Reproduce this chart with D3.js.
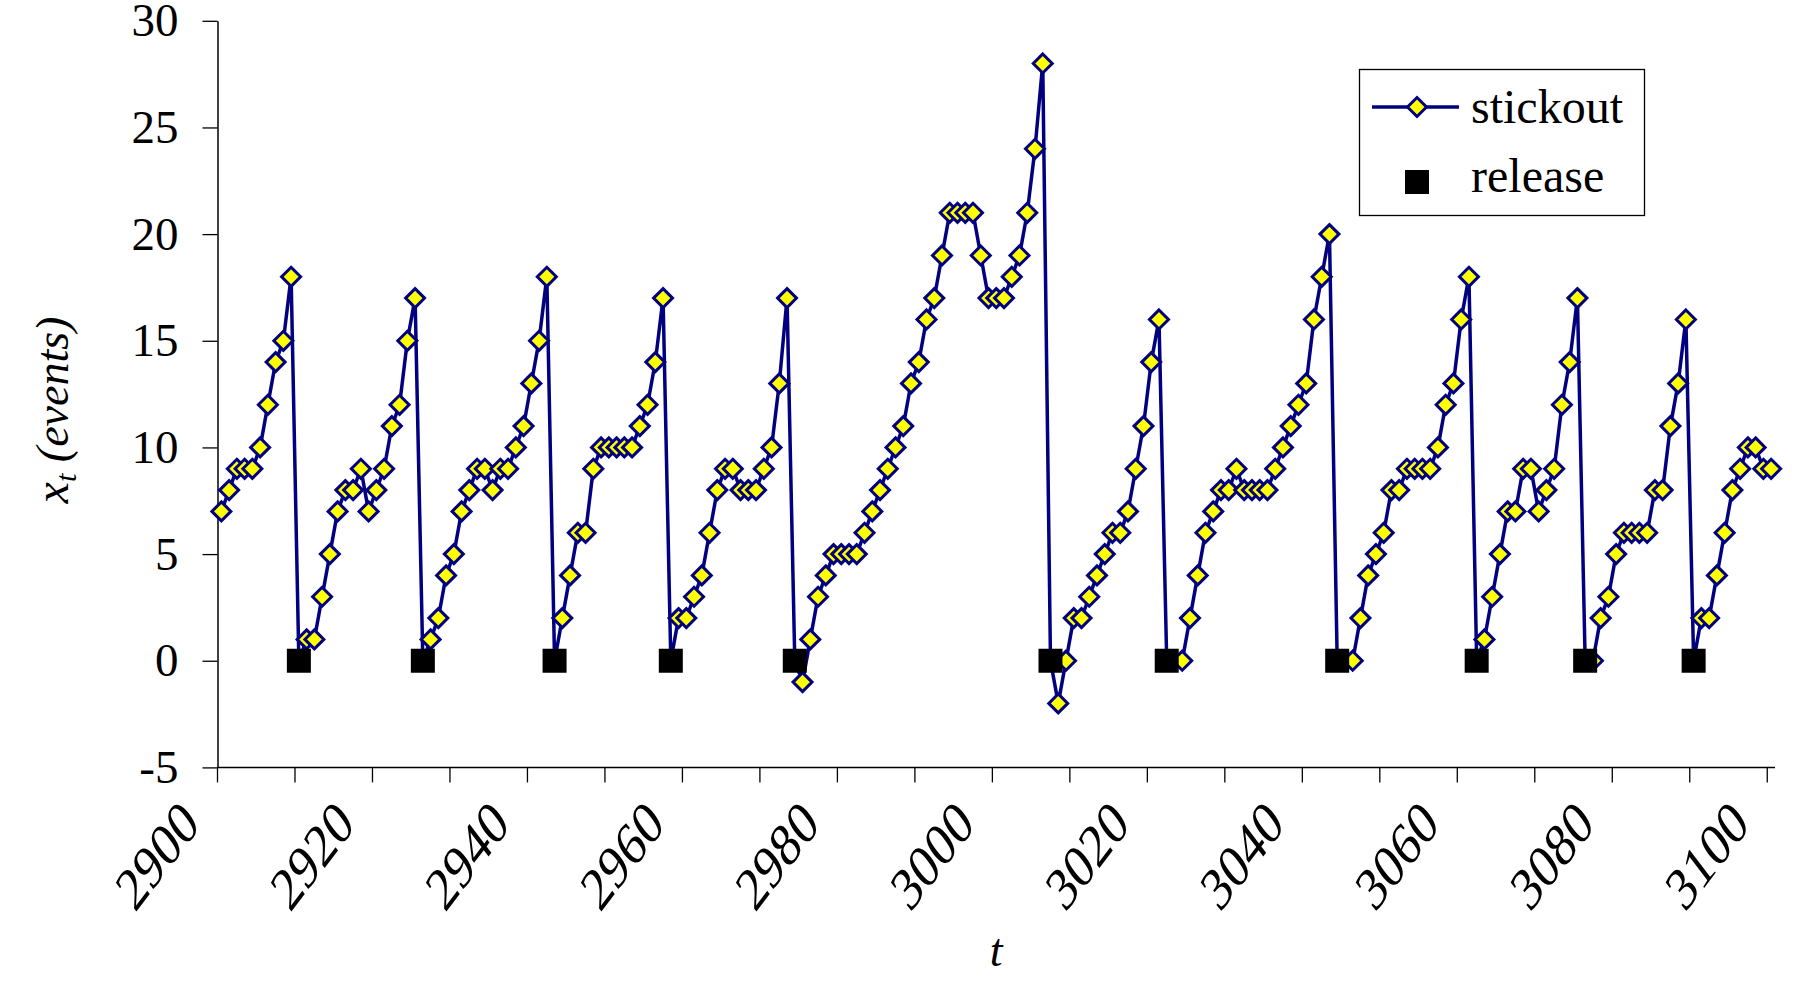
<!DOCTYPE html>
<html>
<head>
<meta charset="utf-8">
<script src="https://cdn.jsdelivr.net/npm/d3@7"></script>
<style>
  html, body { margin: 0; padding: 0; background: #ffffff; }
  svg { display: block; }
  text { font-family: "Liberation Serif", "Times New Roman", serif; fill: #000; }
</style>
</head>
<body>
<svg id="chart" width="1812" height="992"></svg>
<script>
// ---------- data ----------
const tValues = d3.range(2900, 3101);           // categories t = 2900 ... 3100
const stickout = [
  7, 8, 9, 9, 9, 10, 12, 14, 15, 18,
  0, 1, 1, 3, 5, 7, 8, 8, 9, 7,
  8, 9, 11, 12, 15, 17, 0, 1, 2, 4,
  5, 7, 8, 9, 9, 8, 9, 9, 10, 11,
  13, 15, 18, 0, 2, 4, 6, 6, 9, 10,
  10, 10, 10, 10, 11, 12, 14, 17, 0, 2,
  2, 3, 4, 6, 8, 9, 9, 8, 8, 8,
  9, 10, 13, 17, 0, -1, 1, 3, 4, 5,
  5, 5, 5, 6, 7, 8, 9, 10, 11, 13,
  14, 16, 17, 19, 21, 21, 21, 21, 19, 17,
  17, 17, 18, 19, 21, 24, 28, 0, -2, 0,
  2, 2, 3, 4, 5, 6, 6, 7, 9, 11,
  14, 16, 0, 0, 0, 2, 4, 6, 7, 8,
  8, 9, 8, 8, 8, 8, 9, 10, 11, 12,
  13, 16, 18, 20, 0, 0, 0, 2, 4, 5,
  6, 8, 8, 9, 9, 9, 9, 10, 12, 13,
  16, 18, 0, 1, 3, 5, 7, 7, 9, 9,
  7, 8, 9, 12, 14, 17, 0, 0, 2, 3,
  5, 6, 6, 6, 6, 8, 8, 11, 13, 16,
  0, 2, 2, 4, 6, 8, 9, 10, 10, 9,
  9
];
const releaseT = [2910, 2926, 2943, 2958, 2974, 3007, 3022, 3044, 3062, 3076, 3090];
const releaseV = [0, 0, 0, 0, 0, 0, 0, 0, 0, 0, 0];
const yTicks = [-5, 0, 5, 10, 15, 20, 25, 30];
const xTickMarks = [2900, 2910, 2920, 2930, 2940, 2950, 2960, 2970, 2980, 2990, 3000,
                    3010, 3020, 3030, 3040, 3050, 3060, 3070, 3080, 3090, 3100];
const xTickLabels = [2900, 2920, 2940, 2960, 2980, 3000, 3020, 3040, 3060, 3080, 3100];
const seriesNames = ["stickout", "release"];

// ---------- layout ----------
const svg = d3.select("#chart");
const pLeft = 217.5, pRight = 1775, pTop = 20.8, pBottom = 767.4;
const navy = "#000080", yellow = "#FFFF00";
const FS = 46;

const x = d3.scaleBand().domain(tValues).range([pLeft, pRight]).paddingInner(0).paddingOuter(0);
const bw = x.bandwidth();
const cx = t => x(t) + bw / 2;
const y = d3.scaleLinear().domain([-5, 30]).range([pBottom, pTop]);

// ---------- axes ----------
const yAxis = d3.axisLeft(y).tickValues(yTicks).tickFormat(d => String(d))
  .tickSize(15).tickPadding(24).tickSizeOuter(0);
const gy = svg.append("g").attr("transform", `translate(${pLeft},0)`).call(yAxis);
gy.select(".domain").attr("stroke", "#000").attr("stroke-width", 1.5);
gy.selectAll(".tick line").attr("stroke", "#000").attr("stroke-width", 1.3);
gy.selectAll(".tick text").attr("font-size", FS + 1).attr("font-family", "Liberation Serif").attr("fill", "#000");

// x axis (category axis, ticks between categories)
const gx = svg.append("g");
gx.append("line").attr("x1", pLeft).attr("x2", pRight).attr("y1", pBottom).attr("y2", pBottom)
  .attr("stroke", "#000").attr("stroke-width", 1.5);
gx.selectAll("line.xt").data(xTickMarks).join("line").attr("class", "xt")
  .attr("x1", d => x(d)).attr("x2", d => x(d))
  .attr("y1", pBottom).attr("y2", pBottom + 15)
  .attr("stroke", "#000").attr("stroke-width", 1.3);
gx.selectAll("text.xl").data(xTickLabels).join("text").attr("class", "xl")
  .attr("transform", d => `translate(${cx(d) - 20},${pBottom + 59}) scale(1.02,1.34) rotate(-45)`)
  .attr("text-anchor", "end")
  .attr("font-size", FS)
  .text(d => d);

// axis titles
svg.append("text")
  .attr("x", (pLeft + pRight) / 2).attr("y", 966)
  .attr("text-anchor", "middle").attr("font-size", FS).attr("font-style", "italic")
  .text("t");

const yt = svg.append("text")
  .attr("transform", "translate(68,410) rotate(-90)")
  .attr("text-anchor", "middle").attr("font-size", FS).attr("font-style", "italic");
yt.append("tspan").attr("font-size", FS + 2).text("x");
yt.append("tspan").attr("font-size", FS * 0.66).attr("dy", 8).text("t");
yt.append("tspan").attr("dy", -8).text(" (events)");

// ---------- series ----------
const pts = tValues.map((t, i) => ({ t, v: stickout[i] }));
const line = d3.line().x(d => cx(d.t)).y(d => y(d.v));
svg.append("path").datum(pts).attr("d", line)
  .attr("fill", "none").attr("stroke", navy).attr("stroke-width", 3.5).attr("stroke-linejoin", "miter");

const diamond = r => `M0,${-r}L${r},0L0,${r}L${-r},0Z`;
svg.append("g").selectAll("path").data(pts).join("path")
  .attr("d", diamond(9.5))
  .attr("transform", d => `translate(${cx(d.t)},${y(d.v)})`)
  .attr("fill", yellow).attr("stroke", navy).attr("stroke-width", 3);

const rel = releaseT.map((t, i) => ({ t, v: releaseV[i] }));
const SQ = 24;
svg.append("g").selectAll("rect").data(rel).join("rect")
  .attr("x", d => cx(d.t) - SQ / 2).attr("y", d => y(d.v) - SQ / 2)
  .attr("width", SQ).attr("height", SQ).attr("fill", "#000");

// ---------- legend ----------
const lg = svg.append("g");
lg.append("rect").attr("x", 1359.5).attr("y", 69.5).attr("width", 285).attr("height", 146)
  .attr("fill", "#fff").attr("stroke", "#000").attr("stroke-width", 1.3);
lg.append("line").attr("x1", 1372).attr("x2", 1459).attr("y1", 107).attr("y2", 107)
  .attr("stroke", navy).attr("stroke-width", 3.5);
lg.append("path").attr("d", diamond(9.5)).attr("transform", "translate(1417,107)")
  .attr("fill", yellow).attr("stroke", navy).attr("stroke-width", 3);
lg.append("rect").attr("x", 1417 - SQ / 2).attr("y", 182 - SQ / 2).attr("width", SQ).attr("height", SQ).attr("fill", "#000");
lg.selectAll("text").data(seriesNames).join("text")
  .attr("x", 1471).attr("y", (d, i) => i === 0 ? 123 : 192)
  .attr("font-size", FS + 2)
  .text(d => d);
</script>
</body>
</html>
